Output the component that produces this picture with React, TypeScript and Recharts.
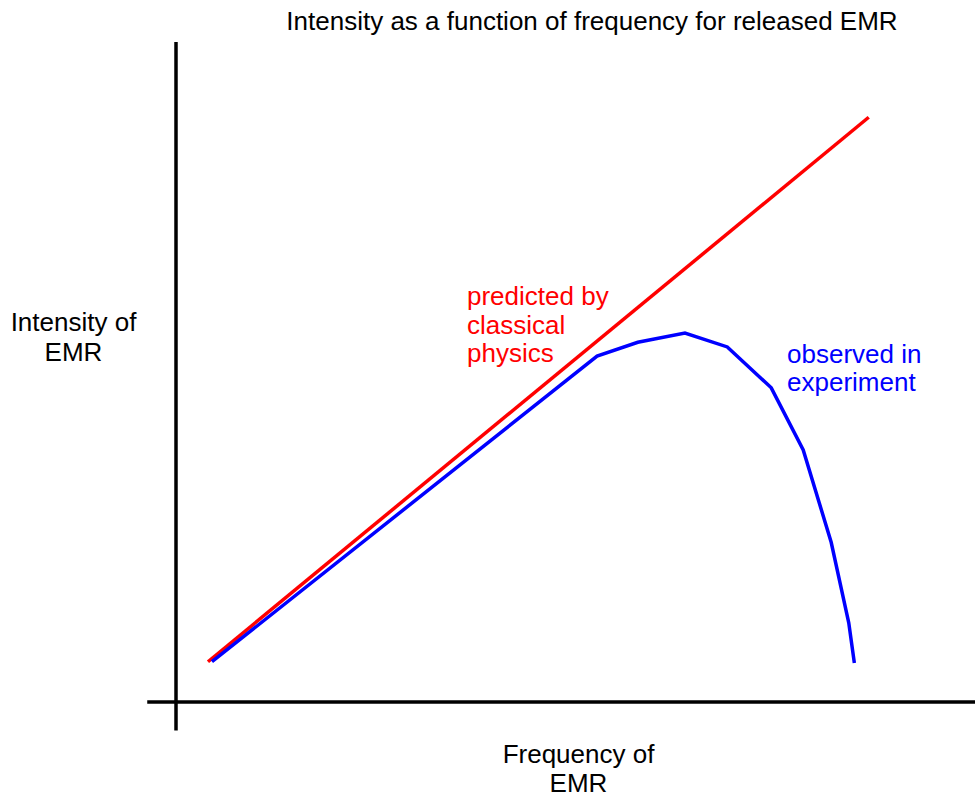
import React from "react";
import { LineChart, Line, XAxis, YAxis, ReferenceLine } from "recharts";

const classicalPoints = [
  { freq: 4.0, intensity: 6.1 },
  { freq: 86.7, intensity: 88.6 },
];

const observedPoints = [
  { freq: 4.5, intensity: 6.1 },
  { freq: 52.7, intensity: 52.4 },
  { freq: 57.8, intensity: 54.5 },
  { freq: 63.7, intensity: 55.9 },
  { freq: 69.0, intensity: 53.8 },
  { freq: 74.5, intensity: 47.6 },
  { freq: 78.5, intensity: 38.2 },
  { freq: 82.0, intensity: 24.2 },
  { freq: 84.2, intensity: 12.0 },
  { freq: 84.9, intensity: 5.9 },
];

const title = "Intensity as a function of frequency for released EMR";
const yLabel = ["Intensity of", "EMR"];
const xLabel = ["Frequency of", "EMR"];
const classicalLabel = ["predicted by", "classical", "physics"];
const observedLabel = ["observed in", "experiment"];

const font = "'Liberation Sans', Arial, sans-serif";

export default function App() {
  return (
    <div style={{ position: "absolute", left: 0, top: 0, width: 975, height: 796, background: "#fff" }}>
      <LineChart
        width={975}
        height={796}
        margin={{ top: 42, right: 0, left: 176, bottom: 94 }}
      >
        <XAxis type="number" dataKey="freq" domain={[0, 100]} hide allowDataOverflow />
        <YAxis type="number" dataKey="intensity" domain={[0, 100]} hide allowDataOverflow />
        <ReferenceLine
          segment={[{ x: -3.6, y: 0 }, { x: 100, y: 0 }]}
          stroke="#000"
          strokeWidth={3.5}
          ifOverflow="visible"
        />
        <ReferenceLine
          segment={[{ x: 0, y: -4.3 }, { x: 0, y: 100 }]}
          stroke="#000"
          strokeWidth={3.5}
          ifOverflow="visible"
        />
        <Line
          data={classicalPoints}
          dataKey="intensity"
          type="linear"
          stroke="#ff0000"
          strokeWidth={3.5}
          dot={false}
          isAnimationActive={false}
        />
        <Line
          data={observedPoints}
          dataKey="intensity"
          type="linear"
          stroke="#0000ff"
          strokeWidth={3.5}
          dot={false}
          isAnimationActive={false}
        />
      </LineChart>
      <svg
        width={975}
        height={796}
        style={{ position: "absolute", left: 0, top: 0, pointerEvents: "none" }}
        fontFamily={font}
        fontSize={26}
      >
        <text x={592} y={30} textAnchor="middle" fill="#000">{title}</text>
        {yLabel.map((t, i) => (
          <text key={t} x={73.5} y={331 + i * 30} textAnchor="middle" fill="#000">{t}</text>
        ))}
        {xLabel.map((t, i) => (
          <text key={t} x={578.5} y={763 + i * 29} textAnchor="middle" fill="#000">{t}</text>
        ))}
        {classicalLabel.map((t, i) => (
          <text key={t} x={467} y={305 + i * 28.5} fill="#ff0000">{t}</text>
        ))}
        {observedLabel.map((t, i) => (
          <text key={t} x={787} y={363 + i * 28} fill="#0000ff">{t}</text>
        ))}
      </svg>
    </div>
  );
}
